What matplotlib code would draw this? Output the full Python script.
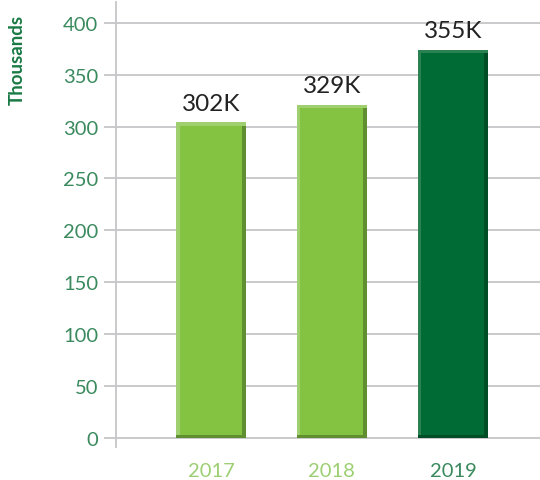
import matplotlib
matplotlib.use('Agg')
import matplotlib.pyplot as plt

plt.rcParams['font.family'] = ['Lato', 'DejaVu Sans']

# data
years = ['2017', '2018', '2019']
values = [304, 321, 374]          # bar heights, thousands
value_labels = ['302K', '329K', '355K']
yticks = [0, 50, 100, 150, 200, 250, 300, 350, 400]

bar_colors = ['#84c241', '#84c241', '#006b35']
light_edge = ['#9fcf6e', '#9fcf6e', '#2a8252']
dark_edge = ['#5f8f30', '#5f8f30', '#004d26']
year_colors = ['#9ccf72', '#9ccf72', '#3a8a5e']

fig = plt.figure(figsize=(5.4, 4.81), dpi=100)
ax = fig.add_axes([116 / 540, 1 - 448 / 481, 1 - 116 / 540, 445 / 481])

x = list(range(len(years)))
w = 0.58
ax.bar(x, values, width=w, color=bar_colors, zorder=3)
# soft bevel on the bar edges
lw = 0.03
ax.bar([i - w / 2 for i in x], values, width=lw, align='edge', color=light_edge, zorder=4)
ax.bar([i + w / 2 - lw for i in x], values, width=lw, align='edge', color=dark_edge, zorder=4)
ax.bar([i + w / 2 - lw / 2 for i in x], values, width=lw / 2, align='edge', color=dark_edge,
       alpha=0.8, zorder=4)
ax.bar(x, [3] * 3, width=w, color=dark_edge, zorder=5)
ax.bar(x, [3] * 3, width=w, bottom=[v - 3 for v in values], color=light_edge, zorder=5)

for i, (v, lab) in enumerate(zip(values, value_labels)):
    ax.text(i, v + 8, lab, ha='center', va='bottom', fontsize=17.5, color='#222222', zorder=6)

ax.set_xlim(-0.785, 2.72)
ax.set_ylim(-8.7, 420)
ax.set_yticks(yticks)
ax.set_yticklabels([str(t) for t in yticks], fontsize=14.5, color='#3a8a5e')
ax.tick_params(axis='y', length=8.6, width=1.3, color='#c6c6c8', pad=4)
ax.set_xticks(x)
ax.set_xticklabels(years, fontsize=14.5)
for lab, c in zip(ax.get_xticklabels(), year_colors):
    lab.set_color(c)
ax.tick_params(axis='x', length=0, pad=10.5)

ax.grid(axis='y', color='#c6c6c8', linewidth=1.3, zorder=0)
for s in ['top', 'right', 'bottom']:
    ax.spines[s].set_visible(False)
ax.spines['left'].set_color('#c6c6c8')
ax.spines['left'].set_linewidth(1.3)

fig.text(17 / 540, 1 - 60 / 481, 'Thousands', rotation=90, ha='center', va='center',
         fontsize=13.5, fontweight='bold', color='#1a7a45')

fig.savefig('out.png', dpi=100)
